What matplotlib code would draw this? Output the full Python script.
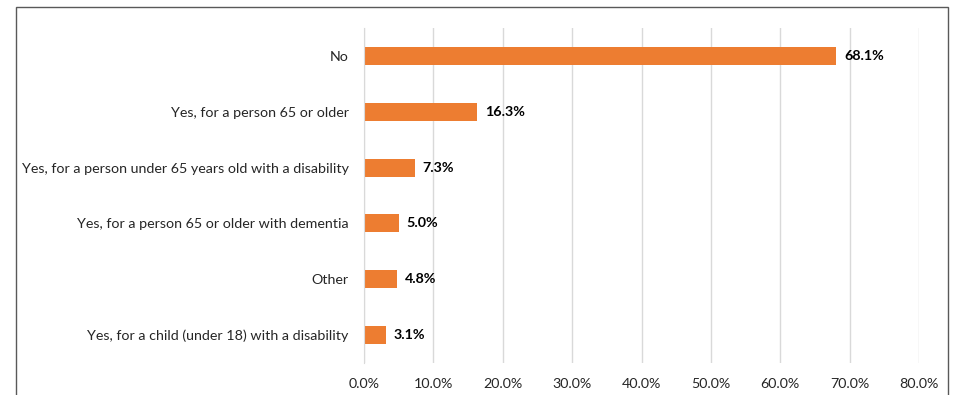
import matplotlib.pyplot as plt
from matplotlib.patches import Rectangle

categories = ["No",
              "Yes, for a person 65 or older",
              "Yes, for a person under 65 years old with a disability",
              "Yes, for a person 65 or older with dementia",
              "Other",
              "Yes, for a child (under 18) with a disability"]
values = [68.1, 16.3, 7.3, 5.0, 4.8, 3.1]
xticks = [0, 10, 20, 30, 40, 50, 60, 70, 80]

plt.rcParams['font.family'] = ['Lato', 'DejaVu Sans']

fig = plt.figure(figsize=(9.55, 3.95), dpi=100)
ax = fig.add_axes([364/955, 1-363/395, (919-364)/955, (363-28)/395])

pos = list(range(len(categories)))
ax.barh(pos, values, height=0.32, color="#ED7D31", zorder=3)
for p, v in zip(pos, values):
    ax.text(v + 1.1, p, f"{v:.1f}%", va="center", ha="left",
            fontsize=10.3, fontweight="bold", color="#000000")

ax.set_yticks(pos)
ax.set_yticklabels(categories, fontsize=10.3, color="#262626")
ax.set_ylim(len(categories) - 0.5, -0.5)
ax.set_xlim(0, 80)
ax.set_xticks(xticks)
ax.set_xticklabels([f"{t:.1f}%" for t in xticks], fontsize=10.3, color="#262626")
ax.tick_params(length=0)
ax.tick_params(axis="y", pad=11)
ax.tick_params(axis="x", pad=11)
ax.grid(axis="x", color="#D9D9D9", linewidth=1, zorder=0)
for s in ["top", "right", "bottom"]:
    ax.spines[s].set_visible(False)
ax.spines["left"].set_color("#D9D9D9")
ax.spines["left"].set_zorder(4)

fig.patches.append(Rectangle((16/955, -0.1), (948-16)/955, 1.1 - 7/395,
                             transform=fig.transFigure, fill=False,
                             edgecolor="#595959", linewidth=1))

fig.savefig("out.png", dpi=100)
